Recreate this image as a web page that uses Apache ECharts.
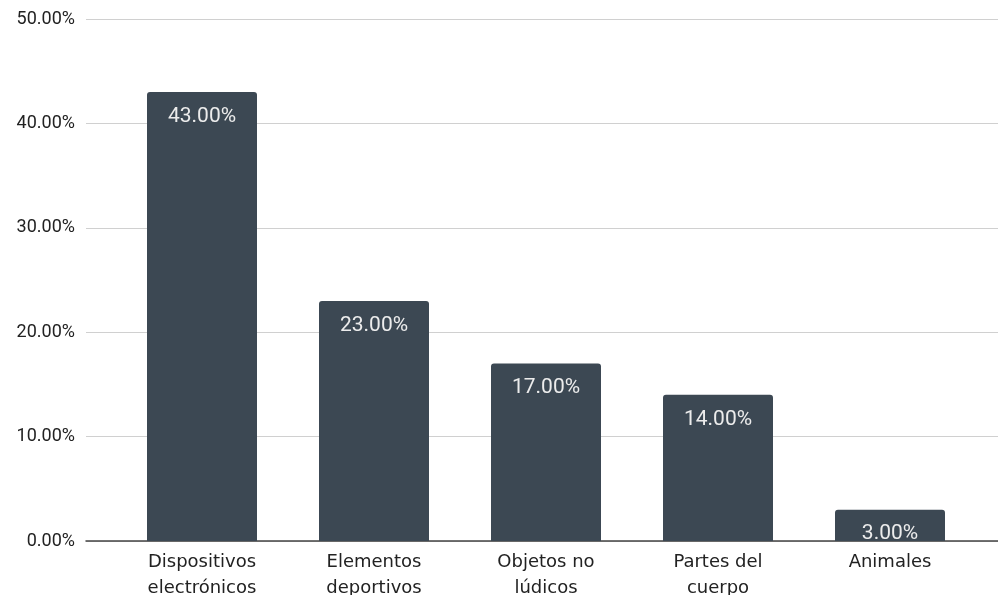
<!DOCTYPE html>
<html>
<head>
<meta charset="utf-8">
<script src="https://cdn.jsdelivr.net/npm/echarts@6/dist/echarts.min.js"></script>
<style>
  html, body { margin: 0; padding: 0; background: #fff; }
  #chart { width: 998px; height: 595px; }
</style>
</head>
<body>
<div id="chart"></div>
<script>
var categories = ['Dispositivos\nelectrónicos', 'Elementos\ndeportivos', 'Objetos no\nlúdicos', 'Partes del\ncuerpo', 'Animales'];
var values = [43, 23, 17, 14, 3];
var yMax = 50;
var yStep = 10;

var chart = echarts.init(document.getElementById('chart'));
var barColor = '#3c4853';

var option = {
  animation: false,
  grid: [
    { left: 86, right: 0, top: 19, bottom: 54, outerBoundsMode: 'none' },
    { left: 116, right: 22, top: 19, bottom: 54, outerBoundsMode: 'none' }
  ],
  xAxis: [
    {
      gridIndex: 0, type: 'category', data: [''],
      axisLine: { show: true, lineStyle: { color: '#444', width: 1.5 } },
      axisTick: { show: false }, axisLabel: { show: false }
    },
    {
      gridIndex: 1, type: 'category', data: categories,
      axisLine: { show: false }, axisTick: { show: false },
      axisLabel: {
        interval: 0, color: '#222', fontFamily: 'DejaVu Sans', fontSize: 18,
        lineHeight: 26, margin: 8
      }
    }
  ],
  yAxis: [
    {
      gridIndex: 0, type: 'value', min: 0, max: yMax, interval: yStep,
      axisLine: { show: false }, axisTick: { show: false },
      axisLabel: {
        color: '#222', fontFamily: 'Roboto', fontSize: 18, margin: 11,
        formatter: function (v) { return v.toFixed(2) + '%'; }
      },
      splitLine: { lineStyle: { color: '#d0d0d0', width: 1 } }
    },
    {
      gridIndex: 1, type: 'value', min: 0, max: yMax, interval: yStep,
      axisLine: { show: false }, axisTick: { show: false },
      axisLabel: { show: false }, splitLine: { show: false }
    }
  ],
  series: [
    {
      type: 'bar', xAxisIndex: 1, yAxisIndex: 1,
      data: values, barWidth: 110,
      itemStyle: { color: barColor, borderRadius: [3, 3, 0, 0] },
      label: {
        show: true, position: 'insideTop', distance: 14,
        color: '#ececec', fontFamily: 'Roboto', fontSize: 21,
        formatter: function (p) { return p.value.toFixed(2) + '%'; }
      }
    }
  ]
};
chart.setOption(option);
</script>
</body>
</html>
